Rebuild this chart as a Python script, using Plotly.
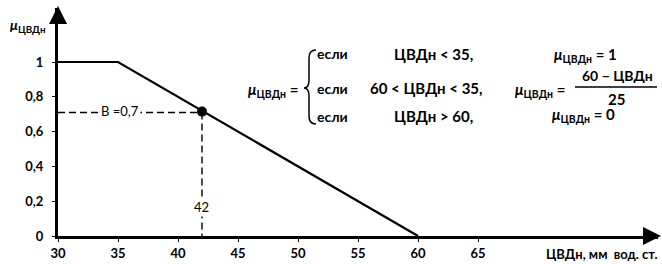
import plotly.graph_objects as go

# ---- data ----
mf_x = [30, 35, 60]          # ЦВДн breakpoints
mf_y = [1, 1, 0]             # membership values
point_x = [42]
point_y = [0.71]
x_ticks = [30, 35, 40, 45, 50, 55, 60, 65]
x_tick_text = ["30", "35", "40", "45", "50", "55", "60", "65"]
y_ticks = [0, 0.2, 0.4, 0.6, 0.8, 1]
y_tick_text = ["0", "0,2", "0,4", "0,6", "0,8", "1"]

W, H = 662, 264
L, R, T, B = 58, 4, 8, 28
XPX = 12.0     # px per unit
YPX = 174.0    # px per unit
x0 = 30
xr = [x0, x0 + (W - L - R) / XPX]
yr = [0, (H - T - B) / YPX]

def X(px):
    return x0 + (px - L) / XPX

def Y(py):
    return (H - B - py) / YPX

def PX(px):
    return (px - L) / (W - L - R)

def PY(py):
    return (H - B - py) / (H - T - B)

FONT = "Lato"
mu = "<i>μ</i><sub>ЦВДн</sub>"

fig = go.Figure()
fig.add_trace(go.Scatter(x=mf_x, y=mf_y, mode="lines",
                         line=dict(color="black", width=2.2), cliponaxis=False,
                         hoverinfo="skip"))
# dashed guides
fig.add_trace(go.Scatter(x=[x0, point_x[0]], y=[point_y[0], point_y[0]], mode="lines",
                         line=dict(color="black", width=1.4, dash="7px,4px"), hoverinfo="skip"))
fig.add_trace(go.Scatter(x=[point_x[0], point_x[0]], y=[point_y[0], 0], mode="lines",
                         line=dict(color="black", width=1.4, dash="7px,4px"), hoverinfo="skip"))
fig.add_trace(go.Scatter(x=point_x, y=[point_y[0] + 0.005], mode="markers",
                         marker=dict(color="black", size=10, symbol="circle"), cliponaxis=False,
                         hoverinfo="skip"))

ann = []
def txt(text, px, py, xa="center", size=14, bold=True, bg=None):
    d = dict(text=text, x=PX(px), y=PY(py), xref="paper", yref="paper", showarrow=False,
             xanchor=xa, yanchor="middle",
             font=dict(family=FONT, size=size, color="black", weight="bold" if bold else "normal"))
    if bg:
        d["bgcolor"] = bg
    ann.append(d)

txt(mu, 8, 25, xa="left", size=14)
txt(mu + " =", 300, 90, xa="right", size=15)
for py in (54, 88, 116):
    txt("если", 315, py, xa="left", size=14)
txt("ЦВДн &lt; 35,", 392, 54, xa="left", size=15)
txt("60 &lt; ЦВДн &lt; 35,", 368, 88, xa="left", size=15)
txt("ЦВДн &gt; 60,", 392, 116, xa="left", size=15)
txt(mu + " = 1", 552, 55, xa="left", size=15)
txt(mu + " =", 513, 90, xa="left", size=15)
txt("60 − ЦВДн", 617, 75, size=14)
txt("25", 616, 99, size=15)
txt(mu + " = 0", 550, 115, xa="left", size=15)
txt("В =0,7", 120, 111, size=13, bold=False, bg="white")
txt("42", 201, 207, size=13, bold=False, bg="white")
txt("ЦВДн, мм  вод. ст.", 660, 254, xa="right", size=13, bold=True)

# axis arrowheads
ann.append(dict(x=PX(58), y=PY(6), ax=0, ay=14, xref="paper", yref="paper",
                axref="pixel", ayref="pixel", showarrow=True, arrowhead=2, arrowsize=1.2,
                arrowwidth=3, arrowcolor="black", text=""))
ann.append(dict(x=PX(661), y=PY(236), ax=-16, ay=0, xref="paper", yref="paper",
                axref="pixel", ayref="pixel", showarrow=True, arrowhead=2, arrowsize=1.2,
                arrowwidth=3, arrowcolor="black", text=""))

# brace and fraction bar
bp = [(316, 50), (309, 50), (309, 58), (309, 80), (309, 88), (304, 88), (309, 88), (309, 96),
      (309, 116), (309, 124), (316, 124)]
c = [(X(a), Y(b)) for a, b in bp]
path = ("M {0[0]},{0[1]} Q {1[0]},{1[1]} {2[0]},{2[1]} L {3[0]},{3[1]} "
        "Q {4[0]},{4[1]} {5[0]},{5[1]} Q {6[0]},{6[1]} {7[0]},{7[1]} L {8[0]},{8[1]} "
        "Q {9[0]},{9[1]} {10[0]},{10[1]}").format(*c)
shapes = [dict(type="path", path=path, xref="x", yref="y", line=dict(color="black", width=1.5)),
          dict(type="line", x0=X(575), x1=X(657), y0=Y(87), y1=Y(87), xref="x", yref="y",
               line=dict(color="black", width=1.5))]

fig.update_layout(
    width=W, height=H, margin=dict(l=L, r=R, t=T, b=B),
    paper_bgcolor="white", plot_bgcolor="white", showlegend=False,
    annotations=ann, shapes=shapes,
    xaxis=dict(range=xr, tickvals=x_ticks, ticktext=x_tick_text, showgrid=False, zeroline=False,
               showline=True, linewidth=3, linecolor="black", ticks="outside", ticklen=3,
               tickcolor="black", tickfont=dict(family=FONT, size=13, color="black", weight="bold")),
    yaxis=dict(range=yr, tickvals=y_ticks, ticktext=y_tick_text, showgrid=False, zeroline=False,
               showline=True, linewidth=3, linecolor="black", ticks="outside", ticklen=3,
               tickcolor="black", ticklabelstandoff=6,
               tickfont=dict(family=FONT, size=13, color="black", weight="bold")),
)
fig.write_html("out.html", config={"displayModeBar": False},
               post_script="document.body.style.margin='0';document.body.style.overflow='hidden';")
